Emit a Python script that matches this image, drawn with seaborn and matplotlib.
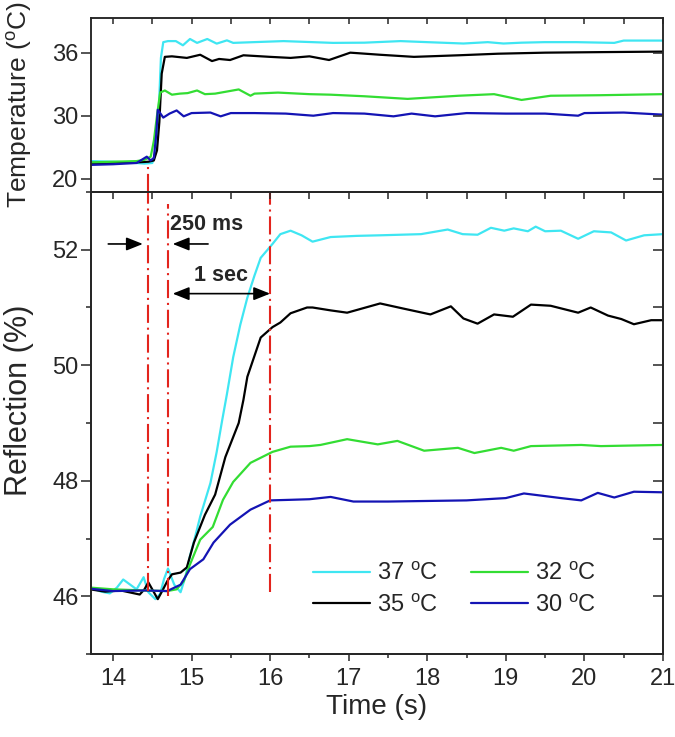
import numpy as np
import pandas as pd
import matplotlib
matplotlib.use("Agg")
import matplotlib.pyplot as plt
from matplotlib.ticker import MultipleLocator, FixedLocator, NullFormatter
import seaborn as sns

# ---- data ----
labels = ["37 $^{\\rm o}$C", "35 $^{\\rm o}$C", "32 $^{\\rm o}$C", "30 $^{\\rm o}$C"]
colors = ["#3fe6f2", "#000000", "#33dd33", "#1414b4"]

# temperature panel
cyan_temp_t = [13.72, 14.0, 14.2, 14.4, 14.5, 14.55, 14.58, 14.61, 14.64, 14.7, 14.8, 14.89, 14.98, 15.07,
               15.2, 15.32, 15.45, 15.53, 15.79, 16.17, 16.8, 17.2, 17.66, 18.0, 18.46, 18.77, 18.97, 19.2,
               19.49, 19.9, 20.38, 20.5, 21.0]
cyan_temp = [22.8, 22.7, 22.6, 22.4, 22.5, 24.5, 30.0, 35.5, 37.0, 37.1, 37.1, 36.7, 37.3, 36.93,
             37.3, 36.86, 37.17, 36.93, 37.0, 37.1, 36.93, 36.95, 37.1, 37.0, 36.87, 37.0, 36.87, 36.95,
             37.0, 37.0, 36.93, 37.15, 37.15]
black_temp_t = [13.72, 14.0, 14.3, 14.45, 14.52, 14.56, 14.59, 14.62, 14.66, 14.75, 14.94, 15.11, 15.26,
                15.35, 15.49, 15.66, 16.0, 16.26, 16.5, 16.75, 17.02, 17.4, 17.83, 18.4, 18.9, 19.5, 20.2, 21.0]
black_temp = [22.5, 22.5, 22.6, 22.7, 22.9, 24.5, 29.0, 34.0, 35.6, 35.65, 35.5, 35.8, 35.2,
              35.4, 35.3, 35.75, 35.6, 35.5, 35.65, 35.3, 36.0, 35.8, 35.6, 35.75, 35.9, 36.0, 36.05, 36.1]
green_temp_t = [13.72, 14.0, 14.3, 14.4, 14.48, 14.52, 14.56, 14.6, 14.66, 14.75, 14.85, 14.95, 15.07, 15.17,
                15.3, 15.6, 15.75, 15.8, 16.1, 16.5, 16.77, 17.2, 17.75, 18.4, 18.85, 19.2, 19.57, 20.2, 21.0]
green_temp = [22.6, 22.7, 22.8, 23.0, 23.5, 26.0, 30.0, 32.2, 32.4, 32.0, 32.1, 32.15, 32.4, 32.05,
              32.1, 32.5, 31.9, 32.1, 32.2, 32.05, 32.0, 31.85, 31.6, 31.9, 32.05, 31.5, 31.9, 31.95, 32.05]
blue_temp_t = [13.72, 14.0, 14.3, 14.43, 14.48, 14.52, 14.55, 14.57, 14.64, 14.72, 14.81, 14.9, 15.0, 15.24,
               15.37, 15.5, 15.8, 16.2, 16.55, 16.8, 17.2, 17.57, 17.8, 18.1, 18.5, 19.0, 19.5, 19.92, 20.0,
               20.5, 21.0]
blue_temp = [22.2, 22.3, 22.5, 23.5, 22.9, 23.3, 27.0, 30.57, 29.7, 30.2, 30.5, 29.9, 30.25, 30.3,
             29.9, 30.25, 30.25, 30.2, 30.0, 30.25, 30.2, 29.9, 30.2, 29.9, 30.25, 30.2, 30.2, 30.0, 30.25,
             30.3, 30.1]

# reflection panel
cyan_refl_t = [13.71, 13.85, 13.96, 14.05, 14.13, 14.22, 14.3, 14.39, 14.45, 14.54, 14.6, 14.65, 14.7, 14.78,
               14.86, 14.92, 14.98, 15.04, 15.11, 15.24, 15.32, 15.39, 15.45, 15.53, 15.62, 15.71, 15.8, 15.88,
               16.03, 16.13, 16.26, 16.4, 16.54, 16.77, 17.1, 17.4, 17.92, 18.26, 18.45, 18.64, 18.81, 18.98,
               19.1, 19.28, 19.38, 19.5, 19.7, 19.92, 20.12, 20.34, 20.53, 20.76, 21.0]
cyan_refl = [46.15, 46.08, 46.05, 46.15, 46.29, 46.2, 46.12, 46.33, 46.07, 45.95, 46.04, 46.3, 46.48, 46.2,
             46.07, 46.33, 46.7, 47.0, 47.38, 47.96, 48.5, 49.05, 49.5, 50.14, 50.7, 51.17, 51.55, 51.86,
             52.1, 52.27, 52.33, 52.25, 52.14, 52.22, 52.24, 52.25, 52.27, 52.35, 52.27, 52.26, 52.38, 52.33,
             52.37, 52.32, 52.4, 52.32, 52.33, 52.19, 52.32, 52.3, 52.16, 52.25, 52.27]
black_refl_t = [13.71, 13.9, 14.1, 14.34, 14.4, 14.45, 14.5, 14.57, 14.63, 14.69, 14.75, 14.86, 14.94, 15.03,
                15.17, 15.3, 15.43, 15.6, 15.66, 15.71, 15.88, 16.03, 16.13, 16.26, 16.47, 16.54, 16.77, 16.98,
                17.4, 17.7, 18.04, 18.3, 18.46, 18.64, 18.85, 19.09, 19.32, 19.57, 19.92, 20.08, 20.3, 20.47,
                20.63, 20.85, 21.0]
black_refl = [46.12, 46.08, 46.1, 46.03, 46.12, 46.24, 46.12, 45.95, 46.1, 46.26, 46.38, 46.41, 46.5, 46.93,
              47.41, 47.76, 48.41, 49.0, 49.4, 49.8, 50.48, 50.66, 50.74, 50.9, 51.0, 51.0, 50.95, 50.91,
              51.07, 50.98, 50.88, 51.02, 50.81, 50.72, 50.88, 50.84, 51.05, 51.03, 50.91, 51.0, 50.86, 50.8,
              50.71, 50.78, 50.78]
green_refl_t = [13.71, 14.0, 14.4, 14.69, 14.81, 14.9, 14.98, 15.11, 15.27, 15.4, 15.53, 15.75, 16.03, 16.26,
                16.5, 16.64, 16.98, 17.37, 17.62, 17.96, 18.39, 18.6, 18.94, 19.1, 19.32, 19.96, 20.21, 21.0]
green_refl = [46.15, 46.12, 46.1, 46.09, 46.12, 46.26, 46.55, 46.98, 47.2, 47.67, 47.98, 48.31, 48.5, 48.59,
              48.6, 48.62, 48.72, 48.63, 48.69, 48.52, 48.57, 48.48, 48.57, 48.52, 48.6, 48.62, 48.6, 48.62]
blue_refl_t = [13.71, 14.0, 14.4, 14.69, 14.86, 14.98, 15.15, 15.28, 15.49, 15.75, 16.0, 16.26, 16.5, 16.77,
               17.06, 17.5, 18.0, 18.5, 19.0, 19.23, 19.7, 19.96, 20.17, 20.38, 20.63, 21.0]
blue_refl = [46.13, 46.09, 46.1, 46.09, 46.2, 46.47, 46.64, 46.93, 47.24, 47.5, 47.66, 47.67, 47.68, 47.72,
             47.64, 47.64, 47.65, 47.66, 47.7, 47.78, 47.7, 47.66, 47.79, 47.71, 47.81, 47.8]

# red dash-dot marker lines (time, bottom, top) in reflection units
marker_times = [14.45, 14.70, 16.0]
marker_lo = [46.09, 46.0, 46.08]
marker_hi = [53.0, 52.79, 53.0]
marker1_temp_top = 22.5


def long_table(parts):
    rows = []
    for lab, t, v in parts:
        rows.append(pd.DataFrame({"time": t, "value": v, "series": lab}))
    return pd.concat(rows, ignore_index=True)


temp_df = long_table(zip(labels, [cyan_temp_t, black_temp_t, green_temp_t, blue_temp_t],
                         [cyan_temp, black_temp, green_temp, blue_temp]))
refl_df = long_table(zip(labels, [cyan_refl_t, black_refl_t, green_refl_t, blue_refl_t],
                         [cyan_refl, black_refl, green_refl, blue_refl]))
palette = dict(zip(labels, colors))


# temperature axis is piecewise linear: 20-30 and 30-36 get equal length
def fwd(t):
    t = np.asarray(t, dtype=float)
    return np.where(t <= 30, (t - 20) / 10.0, 1 + (t - 30) / 6.0)


def inv(u):
    u = np.asarray(u, dtype=float)
    return np.where(u <= 1, 20 + 10.0 * u, 30 + 6.0 * (u - 1))


sns.set_style("ticks")
plt.rcParams["font.family"] = ["Liberation Sans", "DejaVu Sans"]
plt.rcParams["mathtext.fontset"] = "custom"
plt.rcParams["mathtext.rm"] = "Liberation Sans"
plt.rcParams["mathtext.it"] = "Liberation Sans:italic"
plt.rcParams["mathtext.bf"] = "Liberation Sans:bold"
plt.rcParams["axes.linewidth"] = 1.1

fig = plt.figure(figsize=(6.75, 7.37), dpi=100)
ax_t = fig.add_axes([0.1348, 0.7395, 0.8474, 0.2361])
ax_b = fig.add_axes([0.1348, 0.1126, 0.8474, 0.6269])

xlim = (13.72, 21.0)
red = "#e3241d"
dash = (8.7, 2.3, 1.0, 2.3)
tick_fs = 17

# ---- top panel ----
sns.lineplot(data=temp_df, x="time", y="value", hue="series", hue_order=labels, palette=palette,
             sort=False, estimator=None, lw=1.6, legend=False, ax=ax_t)
ax_t.set_yscale("function", functions=(fwd, inv))
ax_t.set_ylim(17.9, 39.3)
ax_t.set_xlim(*xlim)
ax_t.yaxis.set_major_locator(FixedLocator([20, 30, 36]))
ax_t.yaxis.set_minor_locator(FixedLocator([]))
ax_t.xaxis.set_major_locator(MultipleLocator(0.5))
ax_t.tick_params(axis="x", which="both", bottom=False, top=True, direction="in", length=4.5, width=1.1,
                 labelbottom=False)
ax_t.tick_params(axis="y", which="both", left=True, right=False, direction="out", length=7, width=1.1,
                 labelsize=tick_fs, pad=2)
ax_t.set_xlabel("")
ax_t.set_ylabel("Temperature ($^{\\rm o}$C)", fontsize=19)
ax_t.yaxis.set_label_coords(-0.100, 0.5)
ax_t.vlines(marker_times[0], 17.9, marker1_temp_top, colors=red, lw=1.5, linestyles=[(0, dash)], zorder=5)

ax_tr = ax_t.twinx()
ax_tr.set_yscale("function", functions=(fwd, inv))
ax_tr.set_ylim(17.9, 39.3)
ax_tr.yaxis.set_major_locator(FixedLocator([20, 30, 36]))
ax_tr.yaxis.set_minor_locator(FixedLocator([]))
ax_tr.yaxis.set_major_formatter(NullFormatter())
ax_tr.tick_params(axis="y", which="both", direction="in", length=7, width=1.1)

# ---- bottom panel ----
sns.lineplot(data=refl_df, x="time", y="value", hue="series", hue_order=labels, palette=palette,
             sort=False, estimator=None, lw=1.6, ax=ax_b)
ax_b.set_xlim(*xlim)
ax_b.set_ylim(45, 53)
ax_b.yaxis.set_major_locator(MultipleLocator(2))
ax_b.yaxis.set_minor_locator(MultipleLocator(1))
ax_b.xaxis.set_major_locator(MultipleLocator(1))
ax_b.xaxis.set_minor_locator(MultipleLocator(0.5))
ax_b.tick_params(axis="both", which="major", direction="out", length=7, width=1.1, labelsize=tick_fs)
ax_b.tick_params(axis="y", which="minor", direction="out", length=3.6, width=1.1)
ax_b.tick_params(axis="x", which="major", length=5, pad=5)
ax_b.tick_params(axis="x", which="minor", direction="out", length=2.6, width=1.1)
ax_b.tick_params(axis="y", which="major", pad=2)
ax_b.set_xlabel("Time (s)", fontsize=20, labelpad=3)
ax_b.set_ylabel("Reflection (%)", fontsize=22)
ax_b.yaxis.set_label_coords(-0.100, 0.55)

for t, lo, hi in zip(marker_times, marker_lo, marker_hi):
    ax_b.vlines(t, lo, hi, colors=red, lw=1.5, linestyles=[(0, dash)], zorder=5)

ax_b.text(14.73, 52.44, "250 ms", fontsize=15.5, fontweight="bold", ha="left", va="center")
ax_b.text(15.38, 51.56, "1 sec", fontsize=15.5, fontweight="bold", ha="center", va="center")
head = dict(color="black", lw=1.2, mutation_scale=20, shrinkA=0, shrinkB=0)
ax_b.annotate("", xy=(14.38, 52.1), xytext=(13.94, 52.1),
              arrowprops=dict(arrowstyle="-|>,head_length=0.5,head_width=0.2", **head))
ax_b.annotate("", xy=(14.76, 52.1), xytext=(15.21, 52.1),
              arrowprops=dict(arrowstyle="-|>,head_length=0.5,head_width=0.2", **head))
ax_b.annotate("", xy=(16.0, 51.24), xytext=(14.76, 51.24),
              arrowprops=dict(arrowstyle="<|-|>,head_length=0.5,head_width=0.2", **head))

sns.move_legend(ax_b, "center", bbox_to_anchor=(0.636, 0.139), ncol=2, frameon=False, title=None,
                fontsize=17, handlelength=2.4, handletextpad=0.3, columnspacing=1.4, labelspacing=0.4)

ax_br = ax_b.twinx()
ax_br.set_ylim(45, 53)
ax_br.yaxis.set_major_locator(MultipleLocator(1))
ax_br.yaxis.set_major_formatter(NullFormatter())
ax_br.tick_params(axis="y", direction="in", length=7, width=1.1)

ax_bt = ax_b.twiny()
ax_bt.set_xlim(*xlim)
ax_bt.xaxis.set_major_locator(MultipleLocator(0.5))
ax_bt.xaxis.set_major_formatter(NullFormatter())
ax_bt.tick_params(axis="x", direction="in", length=5, width=1.1)

fig.savefig("out.png", dpi=100)
